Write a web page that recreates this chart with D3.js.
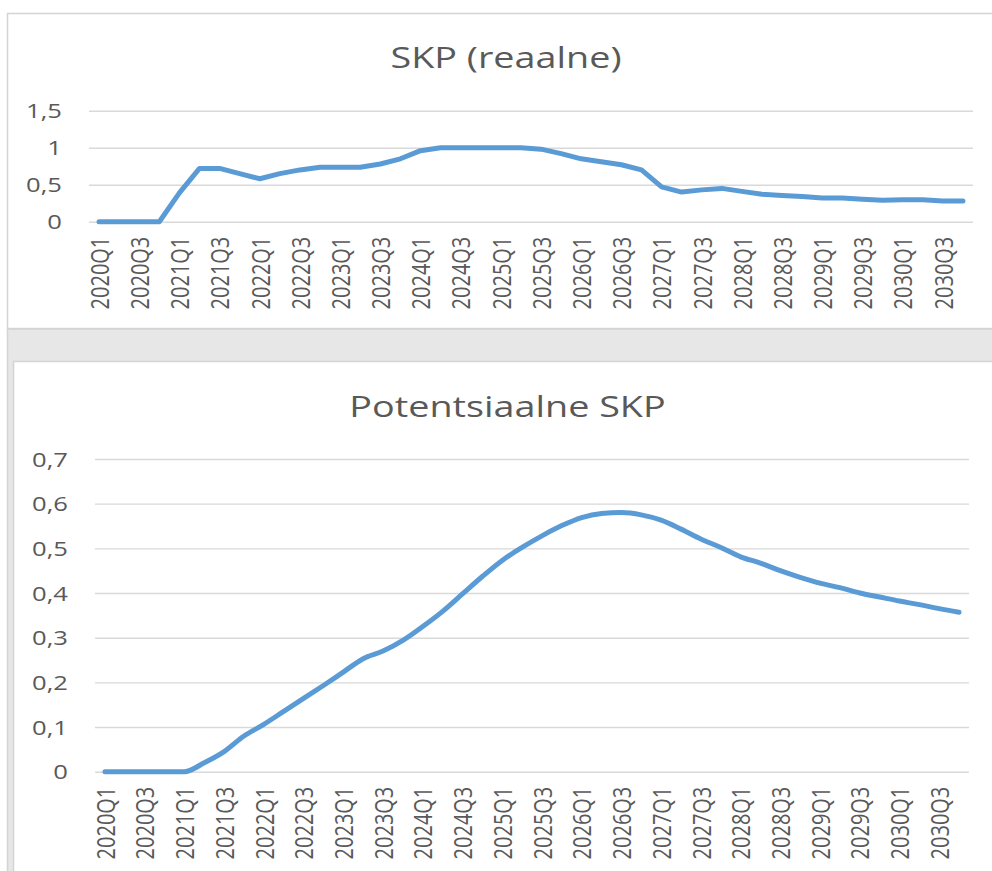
<!DOCTYPE html>
<html>
<head>
<meta charset="utf-8">
<script src="https://cdn.jsdelivr.net/npm/d3@7"></script>
<style>
  body { margin: 0; background: #fff; }
  svg { display: block; font-family: "Open Sans", sans-serif; }
</style>
</head>
<body>
<svg width="992" height="871"></svg>
<script>
// categories (quarters)
const quarters = [
  "2020Q1","2020Q2","2020Q3","2020Q4","2021Q1","2021Q2","2021Q3","2021Q4",
  "2022Q1","2022Q2","2022Q3","2022Q4","2023Q1","2023Q2","2023Q3","2023Q4",
  "2024Q1","2024Q2","2024Q3","2024Q4","2025Q1","2025Q2","2025Q3","2025Q4",
  "2026Q1","2026Q2","2026Q3","2026Q4","2027Q1","2027Q2","2027Q3","2027Q4",
  "2028Q1","2028Q2","2028Q3","2028Q4","2029Q1","2029Q2","2029Q3","2029Q4",
  "2030Q1","2030Q2","2030Q3","2030Q4"
];

// SKP (reaalne)
const skpReal = [0,0,0,0,0.39,0.72,0.72,0.65,0.58,0.65,0.70,0.735,0.735,0.735,0.78,0.85,
  0.96,1.0,1.0,1.0,1.0,1.0,0.98,0.92,0.85,0.81,0.77,0.70,0.47,0.40,0.43,0.45,
  0.41,0.37,0.355,0.34,0.32,0.32,0.305,0.29,0.295,0.295,0.28,0.28];

// Potentsiaalne SKP
const skpPot = [0,0,0,0,0,0.02,0.045,0.08,0.106,0.135,0.164,0.193,0.223,0.253,0.27,0.294,
  0.325,0.359,0.398,0.437,0.473,0.502,0.528,0.551,0.569,0.578,0.580,0.575,0.563,0.543,0.521,0.502,
  0.481,0.467,0.450,0.435,0.422,0.412,0.400,0.391,0.382,0.374,0.365,0.357];

const topTicks = [0, 0.5, 1, 1.5];
const botTicks = [0, 0.1, 0.2, 0.3, 0.4, 0.5, 0.6, 0.7];

const svg = d3.select("svg");
const k = 1.28;          // the picture is stretched sideways
const txt = "#595959", grid = "#d9d9d9", blue = "#5b9bd5";
const fmt = d => String(d).replace(".", ",");

// panels / background
svg.append("rect").attr("x", 7.5).attr("y", 13.5).attr("width", 1000).attr("height", 315)
  .attr("fill", "#fff").attr("stroke", "#d4d4d4").attr("stroke-width", 1.5);
svg.append("rect").attr("x", 7.5).attr("y", 329).attr("width", 1000).attr("height", 560)
  .attr("fill", "#e7e7e7").attr("stroke", "#d4d4d4").attr("stroke-width", 1.5);
svg.append("rect").attr("x", 13.5).attr("y", 361.5).attr("width", 1000).attr("height", 560)
  .attr("fill", "#fff").attr("stroke", "#d4d4d4").attr("stroke-width", 1.5);

function drawChart(cfg) {
  const x = d3.scalePoint().domain(quarters).range([cfg.x0, cfg.x1]).padding(0.5);
  const y = d3.scaleLinear().domain([0, cfg.max]).range([cfg.yb, cfg.yt]);
  const g = svg.append("g");

  // gridlines + y labels
  const ya = g.append("g").attr("transform", `translate(${cfg.x0},0)`)
    .call(d3.axisLeft(y).tickValues(cfg.ticks).tickSize(-(cfg.x1 - cfg.x0)).tickFormat(fmt));
  ya.select(".domain").remove();
  ya.selectAll("line").attr("stroke", grid).attr("stroke-width", 1.4);
  ya.selectAll("text")
    .attr("x", 0).attr("dy", "0.36em")
    .attr("transform", `translate(-27,0) scale(${k},1)`)
    .attr("fill", txt).style("font-size", "20px").style("font-family", "Open Sans");

  // x labels
  const xa = g.append("g").attr("transform", `translate(0,${cfg.yb})`)
    .call(d3.axisBottom(x).tickValues(quarters.filter((q, i) => i % 2 === 0)).tickSize(0));
  xa.select(".domain").remove();
  xa.selectAll("text")
    .attr("x", -15).attr("y", 0).attr("dy", "0.36em")
    .attr("text-anchor", "end")
    .attr("transform", `scale(${k},1) rotate(-90)`)
    .attr("fill", txt).style("font-size", "20px").style("font-family", "Open Sans");

  // line
  g.append("path").datum(cfg.values)
    .attr("fill", "none").attr("stroke", blue).attr("stroke-width", 5)
    .attr("stroke-linejoin", "round").attr("stroke-linecap", "round")
    .attr("d", d3.line().x((d, i) => x(quarters[i])).y(d => y(d)).curve(cfg.curve));

  // title
  g.append("text").text(cfg.title)
    .attr("transform", `translate(${cfg.tx},${cfg.ty}) scale(${k},1)`)
    .attr("text-anchor", "middle").attr("fill", txt)
    .style("font-size", "29.5px");
}

drawChart({
  title: "SKP (reaalne)", values: skpReal, ticks: topTicks, max: 1.5,
  x0: 89, x1: 973, yb: 221.7, yt: 110.7, tx: 506, ty: 68, curve: d3.curveLinear
});

drawChart({
  title: "Potentsiaalne SKP", values: skpPot, ticks: botTicks, max: 0.7,
  x0: 95, x1: 969, yb: 771.7, yt: 459, tx: 507.5, ty: 416.7, curve: d3.curveMonotoneX
});
</script>
</body>
</html>
